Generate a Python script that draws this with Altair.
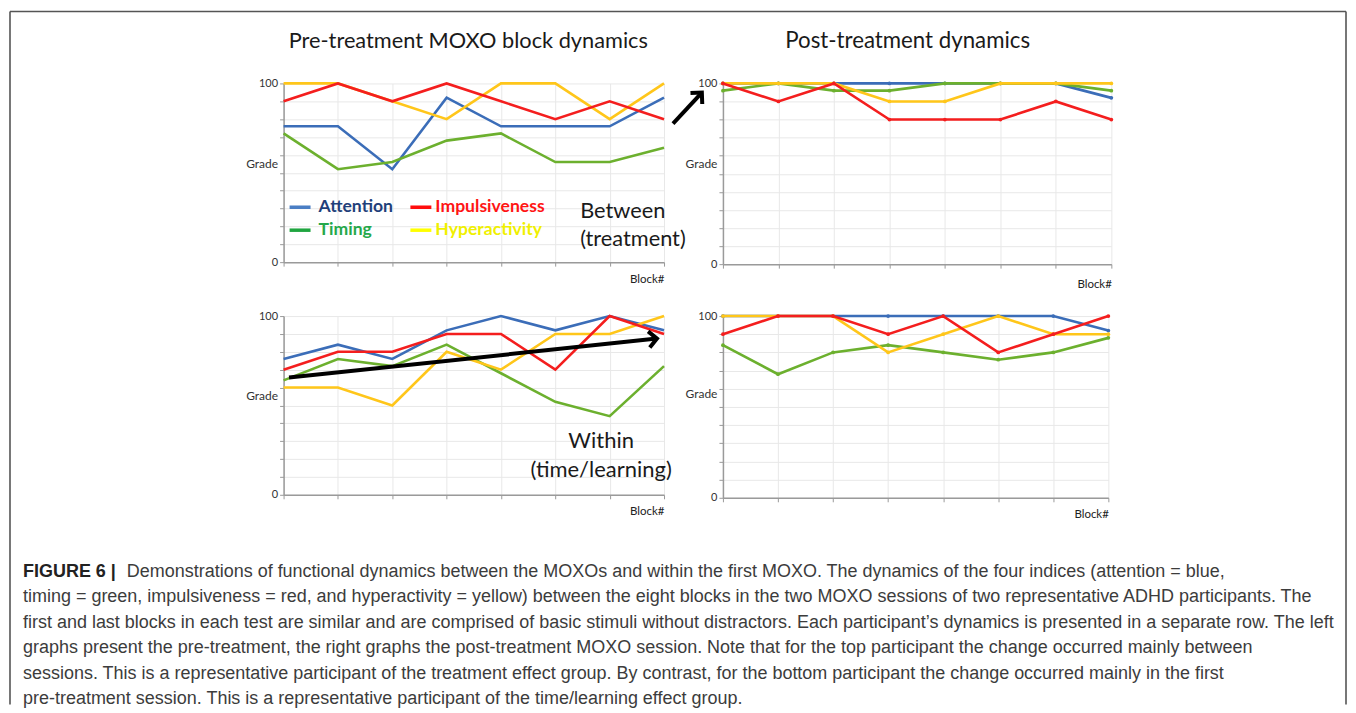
import altair as alt
import pandas as pd

# ---------------- data ----------------
blocks = [1, 2, 3, 4, 5, 6, 7, 8]
series_order = ["Attention", "Timing", "Hyperactivity", "Impulsiveness"]  # drawing order
series_colors = ["#3b6db8", "#6cb02e", "#ffc61a", "#f41e1e"]

# top-left: pre-treatment, participant 1
tl_attention = [76, 76, 52, 92, 76, 76, 76, 92]
tl_timing = [72, 52, 56, 68, 72, 56, 56, 64]
tl_hyper = [100, 100, 90, 80, 100, 100, 80, 100]
tl_impuls = [90, 100, 90, 100, 90, 80, 90, 80]

# top-right: post-treatment, participant 1
tr_attention = [100, 100, 100, 100, 100, 100, 100, 92]
tr_timing = [96, 100, 96, 96, 100, 100, 100, 96]
tr_hyper = [100, 100, 100, 90, 90, 100, 100, 100]
tr_impuls = [100, 90, 100, 80, 80, 80, 90, 80]

# bottom-left: pre-treatment, participant 2
bl_attention = [76, 84, 76, 92, 100, 92, 100, 92]
bl_timing = [64, 76, 72, 84, 68, 52, 44, 72]
bl_hyper = [60, 60, 50, 80, 70, 90, 90, 100]
bl_impuls = [70, 80, 80, 90, 90, 70, 100, 90]

# bottom-right: post-treatment, participant 2
br_attention = [100, 100, 100, 100, 100, 100, 100, 92]
br_timing = [84, 68, 80, 84, 80, 76, 80, 88]
br_hyper = [100, 100, 100, 80, 90, 100, 90, 90]
br_impuls = [90, 100, 100, 90, 100, 80, 90, 100]

# annotation arrows (in data units of their panels)
arrow_within_x = [1.10, 7.87]
arrow_within_y = [65.6, 87.4]
arrow_between_x = [0.10, 0.62]
arrow_between_y = [77.8, 94.9]

legend_names = ["Attention", "Impulsiveness", "Timing", "Hyperactivity"]
legend_line_colors = ["#4a7ec4", "#ff0d0d", "#1fa540", "#ffff00"]
legend_text_colors = ["#1f3f7a", "#ff1414", "#25a84a", "#f0f000"]

title_left = "Pre-treatment MOXO block dynamics"
title_right = "Post-treatment dynamics"

caption_bold = "FIGURE 6 |"
caption_lines = [
    "Demonstrations of functional dynamics between the MOXOs and within the first MOXO. The dynamics of the four indices (attention = blue,",
    "timing = green, impulsiveness = red, and hyperactivity = yellow) between the eight blocks in the two MOXO sessions of two representative ADHD participants. The",
    "first and last blocks in each test are similar and are comprised of basic stimuli without distractors. Each participant\u2019s dynamics is presented in a separate row. The left",
    "graphs present the pre-treatment, the right graphs the post-treatment MOXO session. Note that for the top participant the change occurred mainly between",
    "sessions. This is a representative participant of the treatment effect group. By contrast, for the bottom participant the change occurred mainly in the first",
    "pre-treatment session. This is a representative participant of the time/learning effect group.",
]

FONT = "Lato"
CAP_FONT = "Liberation Sans"
CAP_SIZE = 18.0


def one_text(txt, x, y, size, color="#1a1a1a", weight="normal", align="center", font=FONT):
    return alt.Chart(pd.DataFrame({"t": [txt]})).mark_text(
        font=font, fontSize=size, color=color, fontWeight=weight, align=align, baseline="middle"
    ).encode(text="t:N", x=alt.value(x), y=alt.value(y))


def rule(x, y, x2=None, y2=None, color="#555555", width=1.6):
    enc = {"x": alt.value(x), "y": alt.value(y)}
    if x2 is not None:
        enc["x2"] = alt.value(x2)
    if y2 is not None:
        enc["y2"] = alt.value(y2)
    return alt.Chart(pd.DataFrame({"a": [0]})).mark_rule(color=color, strokeWidth=width).encode(**enc)


def panel(vals, width, height, markers, grade_y, block_y, extra=()):
    rows = []
    for name, v in zip(series_order, vals):
        for b, g in zip(blocks, v):
            rows.append({"block": b, "grade": g, "index": name})
    df = pd.DataFrame(rows)
    xs = alt.Scale(domain=[1, 8], nice=False, zero=False)
    ys = alt.Scale(domain=[0, 100], nice=False)
    xaxis = alt.Axis(values=blocks, labels=False, ticks=True, tickSize=4, tickColor="#9a9a9a",
                     domainColor="#9a9a9a", domainWidth=1.5, gridColor="#e8e8e8", gridWidth=1,
                     title="Block#", titleAnchor="end", titleAlign="right", titleX=width, titleY=block_y,
                     titleBaseline="middle", titleFontSize=11.5, titleFontWeight="normal",
                     titleColor="#222222", titleFont=FONT)
    yaxis = alt.Axis(values=list(range(0, 101, 10)),
                     labelExpr="datum.value == 0 || datum.value == 100 ? datum.label : ''",
                     tickSize=4, tickColor="#9a9a9a", domainColor="#9a9a9a", domainWidth=1.5,
                     gridColor="#e8e8e8", gridWidth=1, labelPadding=2, labelFontSize=11,
                     labelColor="#333333", labelFont=FONT,
                     title="Grade", titleAngle=0, titleAlign="right", titleBaseline="middle",
                     titleX=-6, titleY=grade_y, titleFontSize=12, titleFontWeight="normal",
                     titleColor="#333333", titleFont=FONT)
    enc_x = alt.X("block:Q", scale=xs, axis=xaxis)
    enc_y = alt.Y("grade:Q", scale=ys, axis=yaxis)
    base = alt.Chart(df).encode(x=enc_x, y=enc_y)
    layers = []
    for name, col in zip(series_order, series_colors):
        if markers:
            m = base.transform_filter(alt.datum.index == name).mark_line(
                color=col, strokeWidth=2.6,
                point=alt.OverlayMarkDef(filled=True, size=14, color=col))
        else:
            m = base.transform_filter(alt.datum.index == name).mark_line(color=col, strokeWidth=2.6)
        layers.append(m)
    for e in extra:
        layers.append(e(enc_x, enc_y))
    return alt.layer(*layers).properties(width=width, height=height)


def arrow(xv, yv, angle):
    def make(enc_x, enc_y):
        d = pd.DataFrame({"block": xv, "grade": yv})
        line = alt.Chart(d).mark_line(color="#000000", strokeWidth=4).encode(x=enc_x, y=enc_y)
        head = alt.Chart(d.iloc[[1]]).mark_point(
            shape="M -1 -1 L 0 0 L -1 1", filled=False, color="#000000", strokeWidth=4,
            size=260, angle=angle, opacity=1).encode(x=enc_x, y=enc_y)
        return alt.layer(line, head)
    return make


def texts(items):
    def make(enc_x, enc_y):
        return alt.layer(*items)
    return make


# ---- annotations for panels ----
legend_pos = [(6, 35, 124), (127, 152, 124), (6, 35, 147), (127, 152, 147)]
legend_items = []
for name, lc, tc, (lx, tx, ly) in zip(legend_names, legend_line_colors, legend_text_colors, legend_pos):
    legend_items.append(rule(lx, ly, x2=lx + 21, color=lc, width=3.5))
    legend_items.append(one_text(name, tx, ly, 17.6, color=tc, weight="bold", align="left"))

tl_notes = legend_items + [
    one_text(title_left, 185, -42, 21.8),
    one_text("Between", 297, 128, 21.8, align="left"),
    one_text("(treatment)", 297, 156, 21.8, align="left"),
]
tr_notes = [one_text(title_right, 185, -42, 22.3)]

# caption and figure frame live in the bottom-left panel's layer (pixel offsets from its origin)
LEFT, BL_TOP = 275, 308
cap_items = [one_text(caption_bold, 14 - LEFT, 256, CAP_SIZE, color="#222222", weight="bold",
                      align="left", font=CAP_FONT)]
for i, line in enumerate(caption_lines):
    x0 = (118 if i == 0 else 14) - LEFT
    cap_items.append(one_text(line, x0, 256 + 25.6 * i, CAP_SIZE, color="#3c3c3c",
                              align="left", font=CAP_FONT))
RIGHT = 1339
frame_items = [
    rule(1 - LEFT, -305, y2=389),
    rule(1 - LEFT, -305, x2=RIGHT - LEFT),
    rule(RIGHT - LEFT, -305, y2=389),
]
bl_notes = [
    one_text("Within", 318, 125, 22),
    one_text("(time/learning)", 318, 154, 22),
] + cap_items + frame_items

TL = panel([tl_attention, tl_timing, tl_hyper, tl_impuls], 381, 179, False, 80, 17,
           extra=[texts(tl_notes)])
TR = panel([tr_attention, tr_timing, tr_hyper, tr_impuls], 389, 181, True, 80, 20,
           extra=[texts(tr_notes), arrow(arrow_between_x, arrow_between_y, 313)])
BL = panel([bl_attention, bl_timing, bl_hyper, bl_impuls], 381, 179, False, 80, 17,
           extra=[arrow(arrow_within_x, arrow_within_y, 354), texts(bl_notes)])
BR = panel([br_attention, br_timing, br_hyper, br_impuls], 386, 182, True, 78, 17)

chart = alt.concat(
    TL, TR, BL, BR, columns=2, spacing={"row": 52, "column": 59}, bounds="flush", align="each"
).properties(
    padding={"left": 0, "top": 1, "right": 0, "bottom": 0}, background="white"
).configure_view(stroke="transparent")

chart.save("out.html", embed_options={"renderer": "svg", "actions": False})
